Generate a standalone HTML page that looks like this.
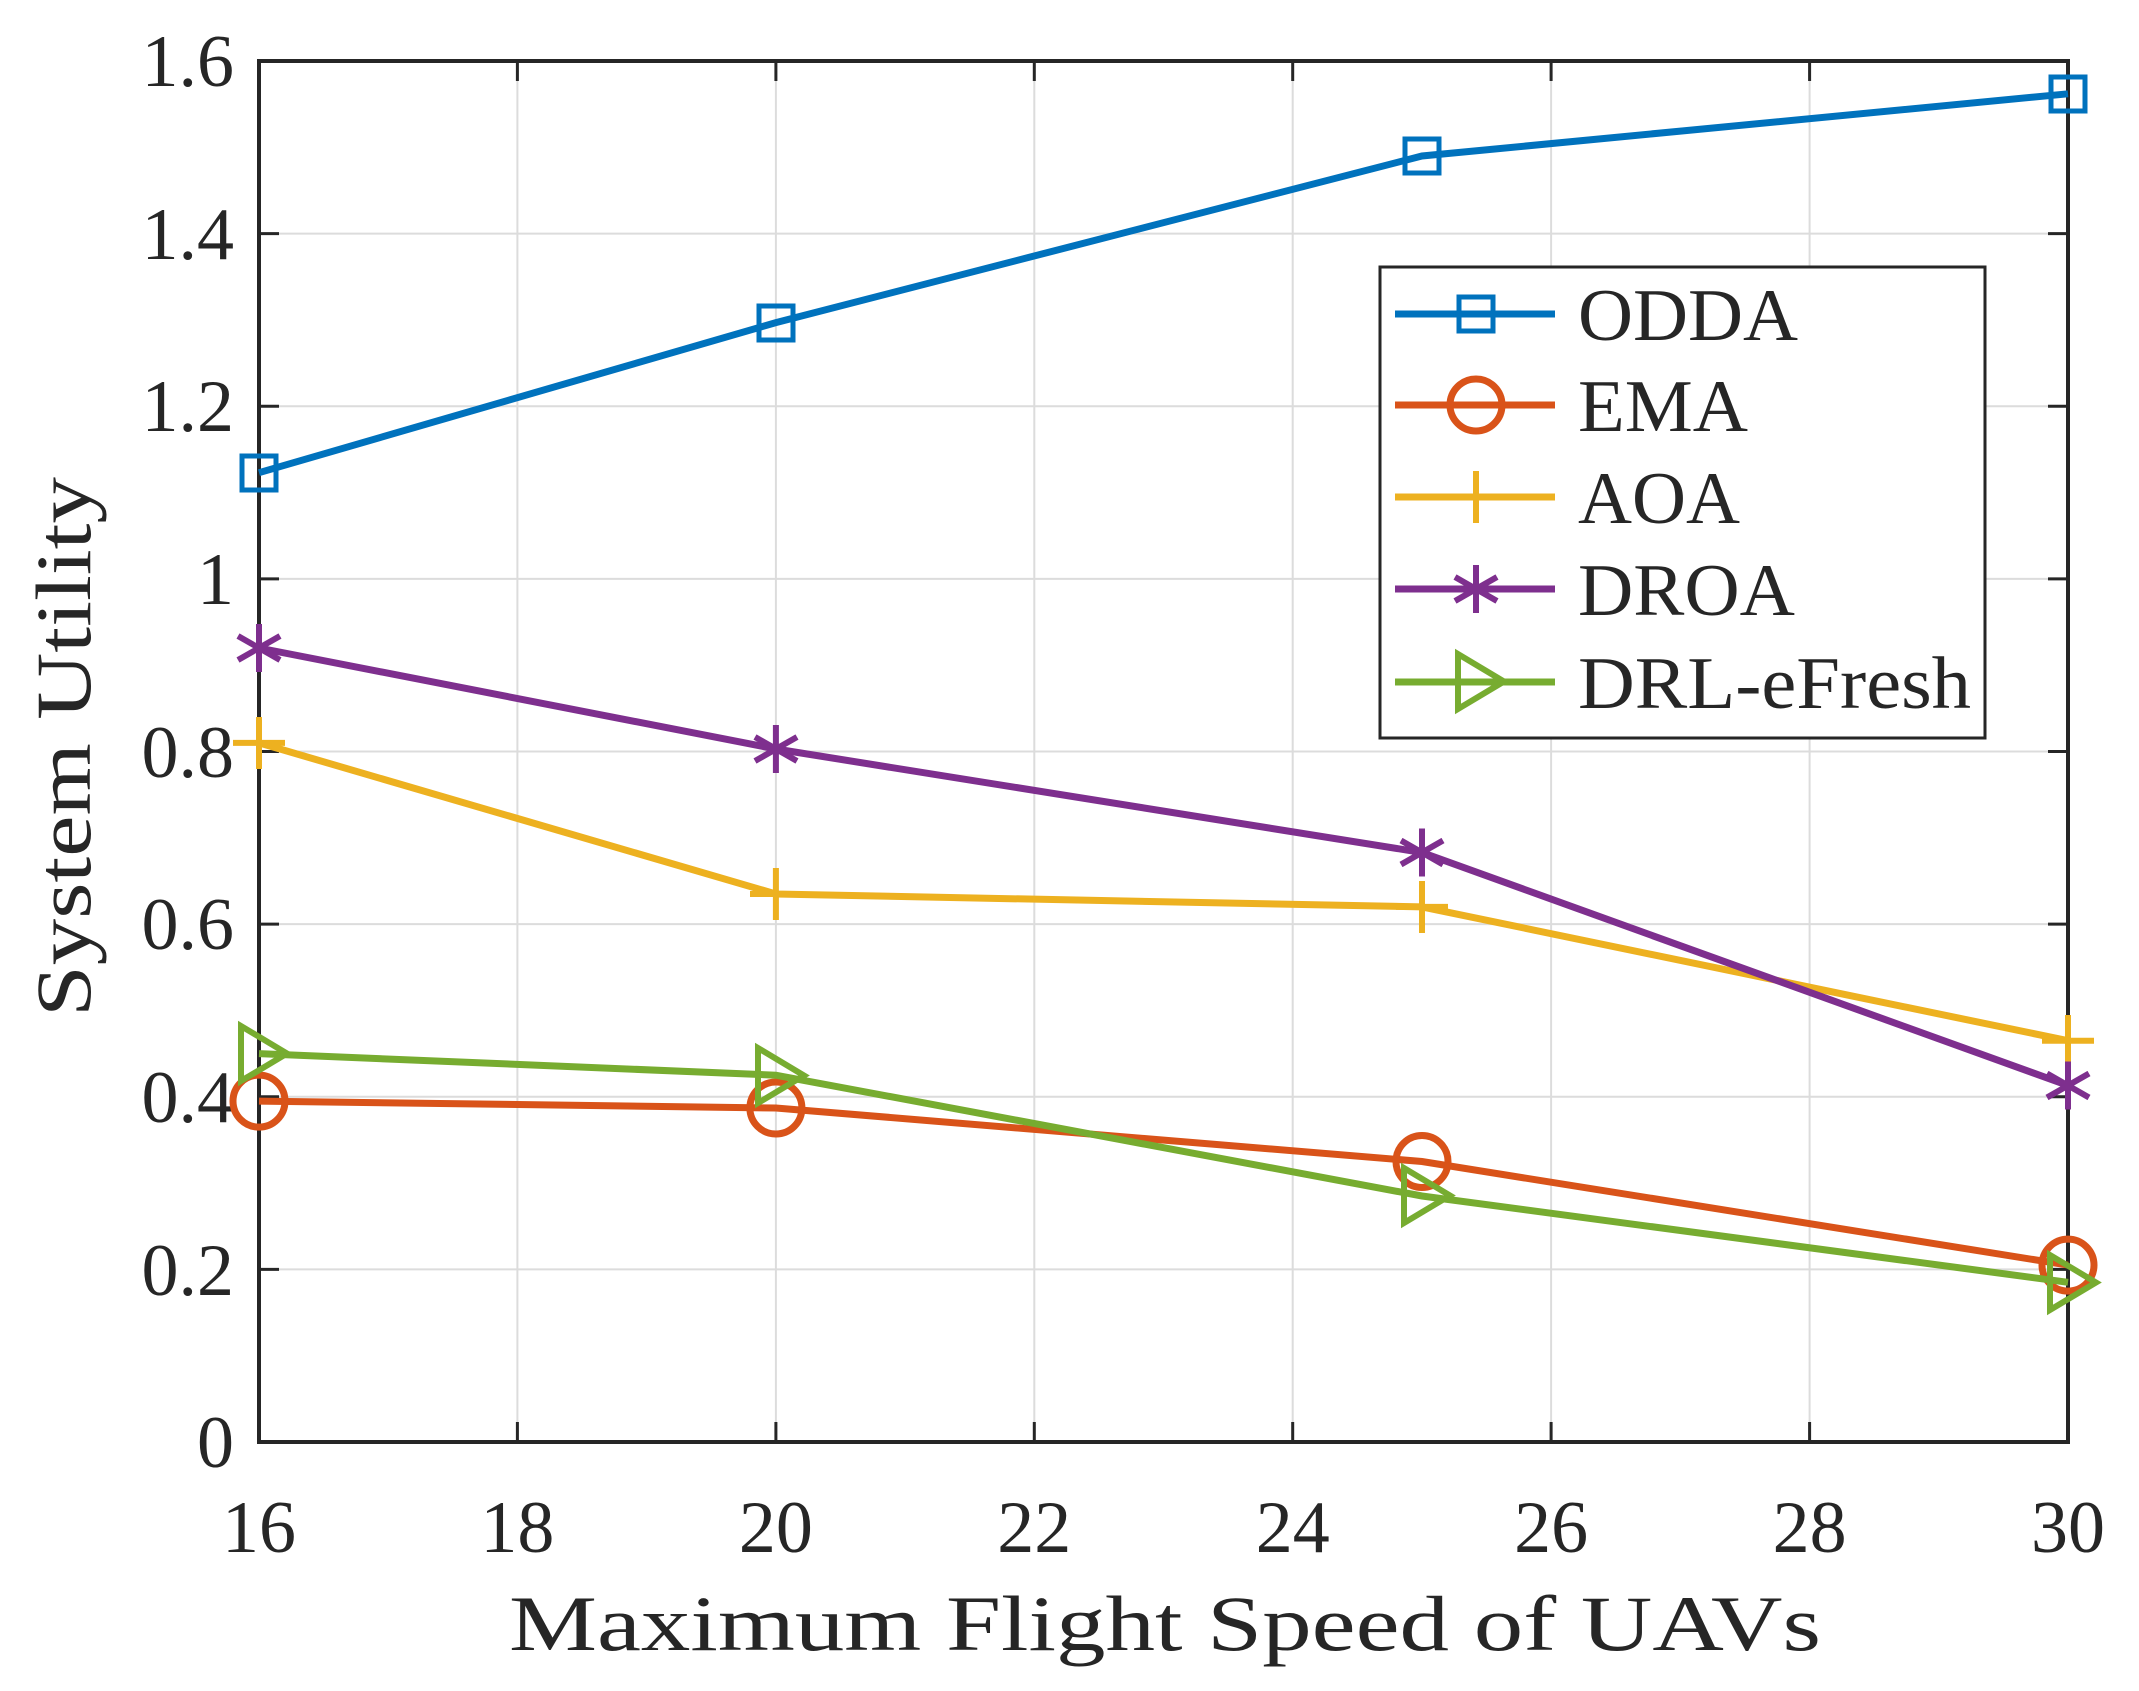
<!DOCTYPE html>
<html><head><meta charset="utf-8"><style>body{margin:0;background:#fff}svg{display:block}</style></head><body>
<svg width="2139" height="1691" xmlns="http://www.w3.org/2000/svg" font-family="'Liberation Serif', serif" fill="#262626">
<g stroke="#dcdcdc" stroke-width="2">
<line x1="517.4" y1="61" x2="517.4" y2="1442"/><line x1="775.9" y1="61" x2="775.9" y2="1442"/><line x1="1034.3" y1="61" x2="1034.3" y2="1442"/><line x1="1292.7" y1="61" x2="1292.7" y2="1442"/><line x1="1551.1" y1="61" x2="1551.1" y2="1442"/><line x1="1809.6" y1="61" x2="1809.6" y2="1442"/>
<line x1="259" y1="1269.4" x2="2068" y2="1269.4"/><line x1="259" y1="1096.8" x2="2068" y2="1096.8"/><line x1="259" y1="924.1" x2="2068" y2="924.1"/><line x1="259" y1="751.5" x2="2068" y2="751.5"/><line x1="259" y1="578.9" x2="2068" y2="578.9"/><line x1="259" y1="406.3" x2="2068" y2="406.3"/><line x1="259" y1="233.6" x2="2068" y2="233.6"/>
</g>
<g stroke="#262626" stroke-width="3">
<path d="M517.4 1442v-20M775.9 1442v-20M1034.3 1442v-20M1292.7 1442v-20M1551.1 1442v-20M1809.6 1442v-20M517.4 61v20M775.9 61v20M1034.3 61v20M1292.7 61v20M1551.1 61v20M1809.6 61v20"/>
<path d="M259 1269.4h20M259 1096.8h20M259 924.1h20M259 751.5h20M259 578.9h20M259 406.3h20M259 233.6h20M2068 1269.4h-20M2068 1096.8h-20M2068 924.1h-20M2068 751.5h-20M2068 578.9h-20M2068 406.3h-20M2068 233.6h-20"/>
<rect x="259" y="61" width="1809" height="1381" fill="none" stroke-width="4"/>
</g>
<g font-size="74" text-anchor="end">
<text x="234" y="1467">0</text><text x="234" y="1295">0.2</text><text x="234" y="1122">0.4</text><text x="234" y="949">0.6</text><text x="234" y="777">0.8</text><text x="234" y="604">1</text><text x="234" y="431">1.2</text><text x="234" y="259">1.4</text><text x="234" y="86">1.6</text>
</g>
<g font-size="74" text-anchor="middle">
<text x="259" y="1552">16</text><text x="517.4" y="1552">18</text><text x="775.9" y="1552">20</text><text x="1034.3" y="1552">22</text><text x="1292.7" y="1552">24</text><text x="1551.1" y="1552">26</text><text x="1809.6" y="1552">28</text><text x="2068" y="1552">30</text>
<text x="1165" y="1650" font-size="78" textLength="1312" lengthAdjust="spacingAndGlyphs">Maximum Flight Speed of UAVs</text>
<text transform="translate(90,747) rotate(-90)" font-size="78" textLength="540" lengthAdjust="spacingAndGlyphs">System Utility</text>
</g>
<g fill="none" stroke-width="7">
<g stroke="#0072BD"><polyline points="259,472.7 775.9,322.6 1422,156.0 2068,93.8"/>
<rect x="242" y="456" width="34" height="34" stroke-width="5"/><rect x="759" y="306" width="34" height="34" stroke-width="5"/><rect x="1405" y="139" width="34" height="34" stroke-width="5"/><rect x="2051" y="77" width="34" height="34" stroke-width="5"/></g>
<g stroke="#D95319"><polyline points="259,1101.1 775.9,1108.0 1422,1161.5 2068,1265.1"/>
<circle cx="259" cy="1101.1" r="26"/><circle cx="775.9" cy="1108" r="26"/><circle cx="1422" cy="1161.5" r="26"/><circle cx="2068" cy="1265.1" r="26"/></g>
<g stroke="#EDB120"><polyline points="259,742.9 775.9,894.0 1422,906.9 2068,1040.7"/>
<path d="M259 717v52M233 742.9h52M775.9 868v52M750 894h52M1422 881v52M1396 906.9h52M2068 1015v52M2042 1040.7h52" stroke-width="6"/></g>
<g stroke="#7E2F8E"><polyline points="259,648 775.9,749 1422,852.5 2068,1085.5"/>
<g stroke-width="6"><path d="M259 624v48M238 636l42 24M238 660l42-24M775.9 725v48M755 737l42 24M755 761l42-24M1422 828.5v48M1401 840.5l42 24M1401 864.5l42-24M2068 1061.5v48M2047 1073.5l42 24M2047 1097.5l42-24"/></g></g>
<g stroke="#77AC30"><polyline points="259,1053.6 775.9,1075.2 1422,1196.0 2068,1282.3"/>
<path d="M241 1026v55l46-27.5z M758 1048v55l46-27.5z M1404 1168v55l46-27.5z M2050 1255v55l46-27.5z" stroke-width="6"/></g>
</g>
<rect x="1380" y="267" width="605" height="471" fill="#fff" stroke="#262626" stroke-width="3"/>
<g fill="none" stroke-width="7">
<line x1="1395" y1="314" x2="1555" y2="314" stroke="#0072BD"/><rect x="1459" y="297" width="34" height="34" stroke="#0072BD" stroke-width="5"/>
<line x1="1395" y1="405" x2="1555" y2="405" stroke="#D95319"/><circle cx="1476" cy="405" r="26" stroke="#D95319"/>
<line x1="1395" y1="497" x2="1555" y2="497" stroke="#EDB120"/><path d="M1476 471v52M1450 497h52" stroke="#EDB120" stroke-width="6"/>
<line x1="1395" y1="589" x2="1555" y2="589" stroke="#7E2F8E"/><path d="M1476 565v48M1455 577l42 24M1455 601l42-24" stroke="#7E2F8E" stroke-width="6"/>
<line x1="1395" y1="682" x2="1555" y2="682" stroke="#77AC30"/><path d="M1458 654v55l46-27.5z" stroke="#77AC30" stroke-width="6"/>
</g>
<g font-size="74">
<text x="1578" y="340" textLength="220" lengthAdjust="spacingAndGlyphs">ODDA</text><text x="1578" y="431" textLength="170" lengthAdjust="spacingAndGlyphs">EMA</text><text x="1578" y="523" textLength="162" lengthAdjust="spacingAndGlyphs">AOA</text><text x="1578" y="615" textLength="217" lengthAdjust="spacingAndGlyphs">DROA</text><text x="1578" y="708" textLength="393" lengthAdjust="spacingAndGlyphs">DRL-eFresh</text>
</g>
</svg>
</body></html>
